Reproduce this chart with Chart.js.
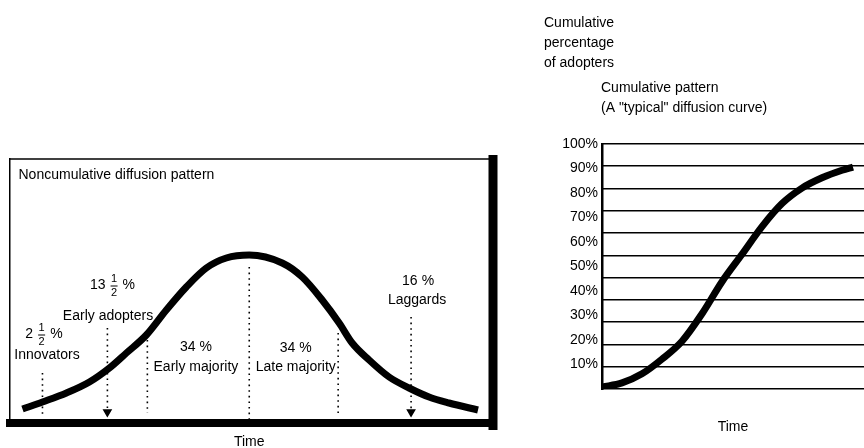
<!DOCTYPE html>
<html>
<head>
<meta charset="utf-8">
<script src="https://cdn.jsdelivr.net/npm/chart.js@4/dist/chart.umd.min.js"></script>
<style>
  html, body { margin: 0; padding: 0; background: #fff; width: 864px; height: 448px; overflow: hidden; }
  canvas { position: absolute; top: 0; }
  #diffusion { left: 0; }
  #cumulative { left: 520px; }
</style>
</head>
<body>
<canvas id="diffusion" width="520" height="448"></canvas>
<canvas id="cumulative" width="344" height="448"></canvas>
<script>
// ---- Noncumulative adoption curve (time units, adopters per period) ----
const curveTime  = [0.65, 1.65, 2.85, 4.0, 5.0, 5.85, 6.85, 7.85, 8.85, 9.85, 10.85, 12.0,
                    13.65, 14.65, 15.65, 16.5, 17.15, 18.0, 19.0, 20.0, 21.0, 22.0, 23.45];
const curveShare = [1.4, 2.1, 3.0, 4.1, 5.5, 7.0, 8.8, 11.3, 13.6, 15.5, 16.5, 16.8,
                    16.0, 14.6, 12.3, 10.0, 8.0, 6.3, 4.6, 3.5, 2.6, 2.0, 1.3];

// Adopter categories and their share of all adopters (%)
const adopterGroups = ['Innovators', 'Early adopters', 'Early majority', 'Late majority', 'Laggards'];
const adopterShares = [2.5, 13.5, 34, 34, 16];

// Dotted markers: time position, top and bottom of each marker, arrow flag
const markerTime   = [1.65, 4.9, 6.9, 12.0, 16.45, 20.1];
const markerTop    = [5.0, 9.5, 8.3, 15.6, 9.0, 10.6];
const markerBottom = [0.8, 1.1, 1.0, 0.3, 1.0, 1.1];
const markerArrow  = [false, true, false, false, false, true];

// ---- Cumulative adoption curve ----
const cumTime = [0, 1, 2, 3, 4, 5, 6, 7, 8, 9, 10, 11, 12, 12.55];
const cumPct  = [0.8, 2.5, 6.2, 12.2, 19.5, 30.7, 43.8, 55, 66.3, 75.7, 82, 86.2, 89.3, 90.6];
const pctTicks = [10, 20, 30, 40, 50, 60, 70, 80, 90, 100];

const FONT = '"Liberation Sans", Arial, sans-serif';
const BLACK = '#000';

// Caption anchors in chart units (time, share) and offsets of the share line above them
const captionAt = [
  { t: 1.875, v: 6.8,  dx: -3,  dy: -21 },  // Innovators
  { t: 4.93,  v: 10.7, dx: 4.5, dy: -31 },  // Early adopters
  { t: 9.33,  v: 5.6,  dx: 0,   dy: -20 },  // Early majority
  { t: 14.33, v: 5.6,  dx: 0,   dy: -19 },  // Late majority
  { t: 20.4,  v: 12.3, dx: 1,   dy: -19 }   // Laggards
];

// Writes a share like 13.5 as "13 ½ %" with a stacked fraction
function drawShare(ctx, value, cx, cy) {
  const whole = Math.floor(value);
  const half = value - whole > 0;
  ctx.save();
  ctx.fillStyle = BLACK;
  ctx.textBaseline = 'middle';
  ctx.font = '14px ' + FONT;
  const wholeStr = String(whole);
  const wW = ctx.measureText(wholeStr).width;
  const pctW = ctx.measureText('%').width;
  const fracW = half ? 9 : 0;
  const gap = 4;
  const total = wW + gap + (half ? fracW + gap : 0) + pctW;
  let x = cx - total / 2;
  ctx.textAlign = 'left';
  ctx.fillText(wholeStr, x, cy);
  x += wW + gap;
  if (half) {
    ctx.font = '11px ' + FONT;
    ctx.textAlign = 'center';
    ctx.fillText('1', x + fracW / 2, cy - 6);
    ctx.fillText('2', x + fracW / 2, cy + 8);
    ctx.fillRect(x + 1, cy + 0.5, fracW - 2, 1);
    x += fracW + gap;
    ctx.font = '14px ' + FONT;
    ctx.textAlign = 'left';
  }
  ctx.fillText('%', x, cy);
  ctx.restore();
}

const diffusionDecor = {
  id: 'diffusionDecor',
  afterDraw(chart) {
    const { ctx, chartArea: a, scales: { x, y } } = chart;
    ctx.save();
    // thin top edge of the frame
    ctx.strokeStyle = BLACK;
    ctx.lineWidth = 1.5;
    ctx.beginPath();
    ctx.moveTo(a.left, a.top);
    ctx.lineTo(a.right + 4, a.top);
    ctx.stroke();
    // heavy right edge of the frame
    ctx.lineWidth = 9;
    ctx.beginPath();
    ctx.moveTo(a.right + 4, a.top - 4);
    ctx.lineTo(a.right + 4, a.bottom + 7);
    ctx.stroke();
    // panel heading
    ctx.fillStyle = BLACK;
    ctx.font = '14px ' + FONT;
    ctx.textAlign = 'left';
    ctx.textBaseline = 'middle';
    ctx.fillText('Noncumulative diffusion pattern', a.left + 9, a.top + 16);
    // category captions with their shares
    adopterGroups.forEach((name, i) => {
      const c = captionAt[i];
      const px = x.getPixelForValue(c.t);
      const py = y.getPixelForValue(c.v);
      ctx.font = '14px ' + FONT;
      ctx.textAlign = 'center';
      ctx.fillText(name, px, py);
      drawShare(ctx, adopterShares[i], px + c.dx, py + c.dy);
    });
    ctx.restore();
  }
};

const markerSets = markerTime.map((t, i) => ({
  data: [{ x: t, y: markerTop[i] }, { x: t, y: markerBottom[i] }],
  borderColor: BLACK,
  backgroundColor: BLACK,
  borderWidth: 1.6,
  borderDash: [1.6, 4],
  pointRadius: markerArrow[i] ? [0, 4] : 0,
  pointStyle: 'triangle',
  rotation: 180,
  fill: false
}));

new Chart(document.getElementById('diffusion'), {
  type: 'line',
  data: {
    datasets: [
      {
        data: curveTime.map((t, i) => ({ x: t, y: curveShare[i] })),
        borderColor: BLACK,
        borderWidth: 7,
        pointRadius: 0,
        cubicInterpolationMode: 'monotone',
        borderCapStyle: 'butt',
        fill: false
      },
      ...markerSets
    ]
  },
  options: {
    responsive: false,
    animation: false,
    events: [],
    layout: { padding: { left: 9.5, right: 31, top: 159, bottom: 0 } },
    plugins: { legend: { display: false }, tooltip: { enabled: false } },
    scales: {
      x: {
        type: 'linear', min: 0, max: 24,
        ticks: { display: false },
        grid: { display: false, drawTicks: false },
        border: { display: true, color: BLACK, width: 8 },
        title: { display: true, text: 'Time', color: BLACK,
                 font: { family: FONT, size: 14, lineHeight: '12px' }, padding: { top: 0, bottom: 0 } },
        afterFit(s) { s.height = 25; }
      },
      y: {
        type: 'linear', min: 0, max: 26.4,
        ticks: { display: false },
        grid: { display: false, drawTicks: false },
        border: { display: true, color: BLACK, width: 1.5 },
        afterFit(s) { s.width = 0; }
      }
    }
  },
  plugins: [diffusionDecor]
});

// ---- Cumulative panel ----
const cumulativeDecor = {
  id: 'cumulativeDecor',
  afterDraw(chart) {
    const { ctx } = chart;
    ctx.save();
    ctx.fillStyle = BLACK;
    ctx.font = '14px ' + FONT;
    ctx.textAlign = 'left';
    ctx.textBaseline = 'middle';
    ['Cumulative', 'percentage', 'of adopters'].forEach((s, i) => ctx.fillText(s, 24, 23 + i * 20));
    ctx.fillText('Cumulative pattern', 81, 88);
    ctx.fillText('(A "typical" diffusion curve)', 81, 108);
    ctx.restore();
  }
};

new Chart(document.getElementById('cumulative'), {
  type: 'line',
  data: {
    datasets: [{
      data: cumTime.map((t, i) => ({ x: t, y: cumPct[i] })),
      yAxisID: 'y',
      borderColor: BLACK,
      borderWidth: 7,
      pointRadius: 0,
      cubicInterpolationMode: 'monotone',
      borderCapStyle: 'butt',
      fill: false
    }]
  },
  options: {
    responsive: false,
    animation: false,
    events: [],
    layout: { padding: { left: 0, right: 0, top: 144, bottom: 0 } },
    plugins: { legend: { display: false }, tooltip: { enabled: false } },
    scales: {
      x: {
        type: 'linear', min: 0, max: 13.1,
        ticks: { display: false },
        grid: { display: false, drawTicks: false },
        border: { display: false },
        title: { display: true, text: 'Time', color: BLACK,
                 font: { family: FONT, size: 14, lineHeight: '12px' }, padding: { top: 0, bottom: 15 } },
        afterFit(s) { s.height = 59; }
      },
      y: {
        position: 'left', min: 0, max: 100,
        afterBuildTicks(s) { s.ticks = pctTicks.map(v => ({ value: v })); },
        ticks: { color: BLACK, padding: 4, font: { family: FONT, size: 14 }, callback: v => v + '%' },
        grid: { display: false, drawTicks: false },
        border: { display: true, color: BLACK, width: 2.5 },
        afterFit(s) { s.width = 82; }
      },
      rows: {
        position: 'right', min: 0, max: 11,
        ticks: { display: false, stepSize: 1 },
        grid: { display: true, color: BLACK, lineWidth: 1.6, drawTicks: false },
        border: { display: false },
        afterFit(s) { s.width = 0; }
      }
    }
  },
  plugins: [cumulativeDecor]
});
</script>
</body>
</html>
